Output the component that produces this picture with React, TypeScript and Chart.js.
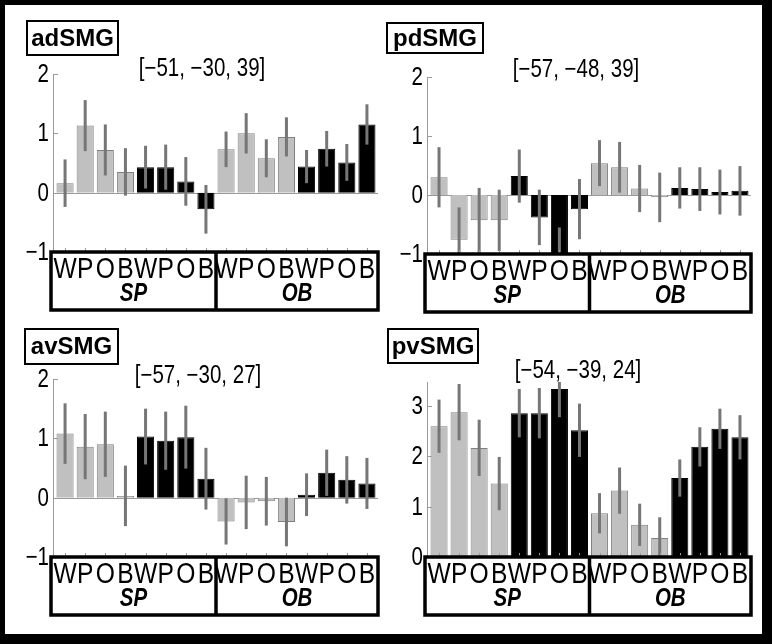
import React, { useEffect, useRef } from "react";
import { Chart, registerables } from "chart.js";

Chart.register(...registerables);

// ---------- data ----------
const categories = ["W", "P", "O", "B", "W", "P", "O", "B", "W", "P", "O", "B", "W", "P", "O", "B"];
const groupLabels = ["SP", "OB"];

const adSMGValues = [0.16, 1.13, 0.72, 0.35, 0.43, 0.43, 0.19, -0.28, 0.73, 1.0, 0.58, 0.94, 0.44, 0.74, 0.51, 1.15];
const adSMGErrors = [0.4, 0.43, 0.43, 0.4, 0.36, 0.38, 0.41, 0.41, 0.3, 0.34, 0.32, 0.33, 0.28, 0.3, 0.31, 0.34];

const pdSMGValues = [0.3, -0.76, -0.43, -0.43, 0.32, -0.38, -1.1, -0.24, 0.54, 0.47, 0.11, -0.04, 0.12, 0.1, 0.05, 0.07];
const pdSMGErrors = [0.51, 0.55, 0.55, 0.52, 0.45, 0.47, 0.55, 0.51, 0.39, 0.43, 0.4, 0.42, 0.35, 0.37, 0.38, 0.42];

const avSMGValues = [1.08, 0.86, 0.9, 0.03, 1.03, 0.96, 1.02, 0.32, -0.4, -0.08, -0.06, -0.41, 0.05, 0.42, 0.3, 0.24];
const avSMGErrors = [0.51, 0.55, 0.55, 0.51, 0.47, 0.49, 0.53, 0.52, 0.39, 0.45, 0.41, 0.41, 0.36, 0.39, 0.4, 0.43];

const pvSMGValues = [2.6, 2.88, 2.17, 1.46, 2.86, 2.86, 3.34, 2.52, 0.87, 1.32, 0.64, 0.38, 1.57, 2.19, 2.55, 2.38];
const pvSMGErrors = [0.53, 0.56, 0.56, 0.53, 0.48, 0.5, 0.56, 0.53, 0.4, 0.46, 0.42, 0.41, 0.37, 0.39, 0.4, 0.44];

const panelNames = ["adSMG", "pdSMG", "avSMG", "pvSMG"];
const panelCoords = ["[\u221251, \u221230, 39]", "[\u221257, \u221248, 39]", "[\u221257, \u221230, 27]", "[\u221254, \u221239, 24]"];
const yMins = [-1, -1, -1, 0];
const yMaxs = [2, 2, 2, 3.48];
const yTickValues = [[-1, 0, 1, 2], [-1, 0, 1, 2], [-1, 0, 1, 2], [0, 1, 2, 3]];

// ---------- style / layout ----------
const GRAY = "rgb(192,192,192)";
const BLACK = "#000000";
const barIsGray = [1, 1, 1, 1, 0, 0, 0, 0, 1, 1, 1, 1, 0, 0, 0, 0];
const SANS = "'Liberation Sans', Arial, sans-serif";
const SQ = 0.82; // horizontal squeeze to mimic a narrow face

const CW = 386;
const CH = 322;
const layouts = [
  { ox: 0, oy: 0, left: 55, right: 377, top: 74, bottom: 252, tbox: [27, 21, 91, 34], coord: [202, 69] },
  { ox: 386, oy: 0, left: 43, right: 364, top: 77, bottom: 254, tbox: [1, 23, 96, 30], coord: [190, 70] },
  { ox: 0, oy: 322, left: 55, right: 377, top: 57, bottom: 235, tbox: [25, 7, 93, 35], coord: [198, 54] },
  { ox: 386, oy: 322, left: 43, right: 364, top: 60, bottom: 235, tbox: [2, 7, 90, 34], coord: [192, 49] },
];

function squeezedText(ctx: CanvasRenderingContext2D, text: string, cx: number, cy: number) {
  ctx.save();
  ctx.translate(cx, cy);
  ctx.scale(SQ, 1);
  ctx.fillText(text, 0, 0);
  ctx.restore();
}

function Panel({ idx, values, errors }: { idx: number; values: number[]; errors: number[] }) {
  const ref = useRef<HTMLCanvasElement | null>(null);
  useEffect(() => {
    const L = layouts[idx];
    const decor = {
      id: "decor" + idx,
      beforeDatasetsDraw(chart: any) {
        const ctx = chart.ctx;
        const a = chart.chartArea;
        const y = chart.scales.y;
        ctx.save();
        ctx.strokeStyle = "#9a9a9a";
        ctx.lineWidth = 1;
        if (yMins[idx] < 0) {
          const y0 = Math.round(y.getPixelForValue(0)) + 0.5;
          ctx.beginPath();
          ctx.moveTo(a.left - 2, y0);
          ctx.lineTo(a.right + 1, y0);
          ctx.stroke();
        }
        ctx.beginPath();
        ctx.moveTo(a.left - 2 + 0.5, a.top);
        ctx.lineTo(a.left - 2 + 0.5, a.bottom);
        ctx.stroke();
        yTickValues[idx].forEach((v) => {
          const py = Math.round(y.getPixelForValue(v)) + 0.5;
          ctx.beginPath();
          ctx.moveTo(a.left - 2, py);
          ctx.lineTo(a.left + 3, py);
          ctx.stroke();
        });
        // y tick labels
        ctx.fillStyle = "#000";
        ctx.font = "25px " + SANS;
        ctx.textAlign = "right";
        ctx.textBaseline = "middle";
        yTickValues[idx].forEach((v) => {
          const py = y.getPixelForValue(v);
          const t = String(v).replace("-", "\u2212");
          ctx.save();
          ctx.translate(a.left - 6, py + 1);
          ctx.scale(SQ, 1);
          ctx.fillText(t, 0, 0);
          ctx.restore();
        });
        ctx.restore();
      },
      afterDatasetsDraw(chart: any) {
        const ctx = chart.ctx;
        const a = chart.chartArea;
        const x = chart.scales.x;
        const y = chart.scales.y;
        ctx.save();
        ctx.beginPath();
        ctx.rect(a.left, a.top, a.right - a.left, a.bottom - a.top);
        ctx.clip();
        ctx.strokeStyle = "rgb(118,118,118)";
        ctx.lineWidth = 3;
        values.forEach((v, i) => {
          const px = x.getPixelForValue(i);
          ctx.beginPath();
          ctx.moveTo(px, y.getPixelForValue(v + errors[i]));
          ctx.lineTo(px, y.getPixelForValue(v - errors[i]));
          ctx.stroke();
        });
        ctx.restore();
        ctx.save();
        ctx.strokeStyle = "#9a9a9a";
        ctx.lineWidth = 1;
        categories.forEach((_, i) => {
          const px = Math.round(x.getPixelForValue(i)) + 0.5;
          ctx.beginPath();
          ctx.moveTo(px, a.bottom - 4);
          ctx.lineTo(px, a.bottom);
          ctx.stroke();
        });
        ctx.restore();
      },
      afterDraw(chart: any) {
        const ctx = chart.ctx;
        const a = chart.chartArea;
        const x = chart.scales.x;
        ctx.save();
        const bl = a.left - 4;
        const br = a.right + 1;
        const bt = a.bottom;
        const bb = a.bottom + 58;
        ctx.strokeStyle = "#000";
        ctx.lineWidth = 3.5;
        ctx.strokeRect(bl, bt, br - bl, bb - bt);
        const mid = (x.getPixelForValue(7) + x.getPixelForValue(8)) / 2;
        ctx.beginPath();
        ctx.moveTo(mid, bt);
        ctx.lineTo(mid, bb);
        ctx.stroke();
        ctx.fillStyle = "#000";
        ctx.textAlign = "center";
        ctx.textBaseline = "middle";
        // category labels
        ctx.font = "30px " + SANS;
        categories.forEach((c, i) => {
          squeezedText(ctx, c, x.getPixelForValue(i), bt + 18);
        });
        // group labels
        ctx.font = "italic bold 25px " + SANS;
        squeezedText(ctx, groupLabels[0], (bl + mid) / 2, bt + 42);
        squeezedText(ctx, groupLabels[1], (mid + br) / 2, bt + 42);
        // title box
        const [tx, ty, tw, th] = L.tbox;
        ctx.lineWidth = 2;
        ctx.strokeRect(tx, ty, tw, th);
        ctx.font = "bold 24px " + SANS;
        ctx.fillText(panelNames[idx], tx + tw / 2, ty + th / 2 + 1);
        // coordinates
        ctx.font = "25px " + SANS;
        squeezedText(ctx, panelCoords[idx], L.coord[0], L.coord[1]);
        ctx.restore();
      },
    };

    const chart = new Chart(ref.current as HTMLCanvasElement, {
      type: "bar",
      data: {
        labels: categories,
        datasets: [
          {
            data: values,
            backgroundColor: barIsGray.map((g) => (g ? GRAY : BLACK)),
            borderColor: barIsGray.map((g) => (g ? "rgb(128,128,128)" : BLACK)),
            borderWidth: 1,
            barPercentage: 0.85,
            categoryPercentage: 1,
          },
        ],
      },
      options: {
        animation: false,
        responsive: false,
        devicePixelRatio: 1,
        layout: { padding: { left: 0, top: L.top, right: CW - L.right, bottom: 0 } },
        plugins: { legend: { display: false }, tooltip: { enabled: false } },
        scales: {
          x: {
            grid: { display: false, drawTicks: false },
            border: { display: false },
            ticks: { display: false },
            afterFit: (s: any) => {
              s.height = CH - L.bottom;
            },
          },
          y: {
            min: yMins[idx],
            max: yMaxs[idx],
            grid: { display: false, drawTicks: false },
            border: { display: false },
            ticks: { display: false },
            afterFit: (s: any) => {
              s.width = L.left;
            },
          },
        },
      },
      plugins: [decor],
    } as any);
    return () => chart.destroy();
  }, [idx, values, errors]);

  const L = layouts[idx];
  return (
    <canvas
      ref={ref}
      width={CW}
      height={CH}
      style={{ position: "absolute", left: L.ox, top: L.oy, width: CW, height: CH }}
    />
  );
}

export default function App() {
  return (
    <div style={{ position: "absolute", left: 0, top: 0, width: 772, height: 644, background: "#fff", overflow: "hidden" }}>
      <Panel idx={0} values={adSMGValues} errors={adSMGErrors} />
      <Panel idx={1} values={pdSMGValues} errors={pdSMGErrors} />
      <Panel idx={2} values={avSMGValues} errors={avSMGErrors} />
      <Panel idx={3} values={pvSMGValues} errors={pvSMGErrors} />
      <div
        style={{
          position: "absolute",
          left: 0,
          top: 0,
          width: 772,
          height: 644,
          boxSizing: "border-box",
          borderStyle: "solid",
          borderColor: "#000",
          borderWidth: "5px 10px 10px 5px",
          pointerEvents: "none",
        }}
      />
    </div>
  );
}
